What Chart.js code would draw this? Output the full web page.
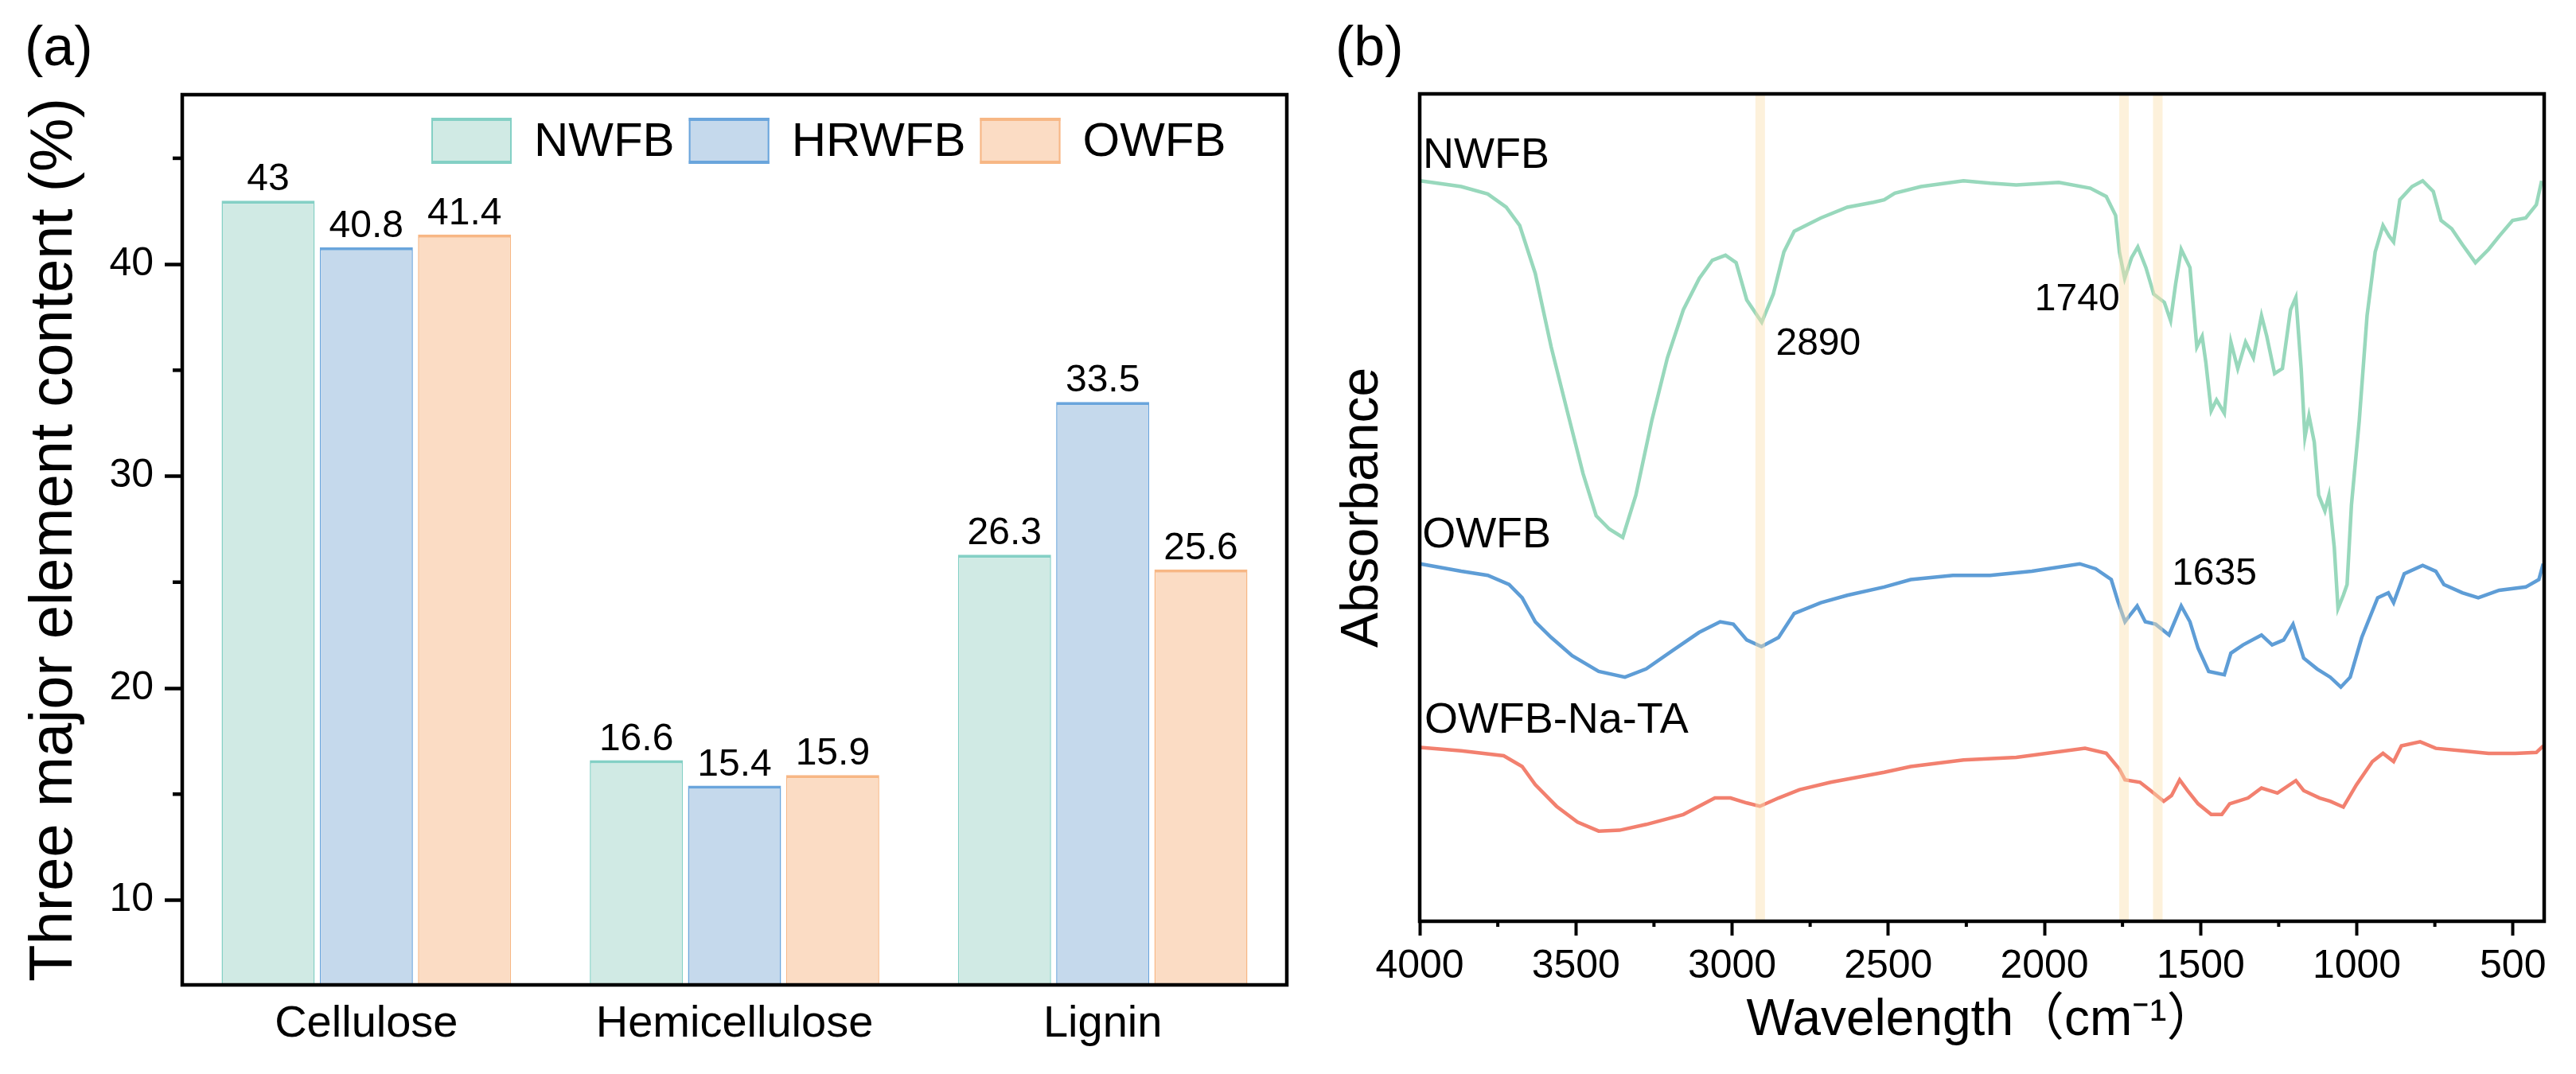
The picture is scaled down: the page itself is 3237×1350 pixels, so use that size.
<!DOCTYPE html>
<html>
<head>
<meta charset="utf-8">
<script src="https://cdn.jsdelivr.net/npm/chart.js@4.4.1/dist/chart.umd.min.js"></script>
<style>
body { margin: 0; background: #fff; }
#wrap { position: relative; width: 3237px; height: 1350px; }
canvas { position: absolute; top: 0; }
#barCanvas { left: 0; }
#ftirCanvas { left: 1650px; }
</style>
</head>
<body>
<div id="wrap">
<canvas id="barCanvas" width="1650" height="1350"></canvas>
<canvas id="ftirCanvas" width="1587" height="1350"></canvas>
</div>
<script>
// (a) three major element content
const categories = ['Cellulose', 'Hemicellulose', 'Lignin'];
const nwfbContent = [43, 16.6, 26.3];
const hrwfbContent = [40.8, 15.4, 33.5];
const owfbContent = [41.4, 15.9, 25.6];
const contentTicks = [10, 20, 30, 40];
const contentMinorTicks = [15, 25, 35, 45];

// (b) FTIR spectra, wavenumber (cm-1) vs relative absorbance (offset, arbitrary units)
const wnTicks = [4000, 3500, 3000, 2500, 2000, 1500, 1000, 500];
const wnMinorTicks = [3750, 3250, 2750, 2250, 1750, 1250, 750];
const bandPositions = [2910, 1745, 1637];

const nwfbWn = [3998,3867,3782,3723,3680,3630,3579,3528,3477,3435,3393,3350,3308,3257,3207,3156,3105,3063,3021,2987,2953,2905,2868,2834,2801,2716,2631,2547,2513,2479,2395,2259,2174,2090,1954,1853,1802,1772,1760,1743,1721,1701,1675,1650,1616,1596,1580,1562,1534,1512,1495,1483,1466,1449,1424,1403,1381,1356,1331,1305,1288,1263,1238,1212,1195,1178,1166,1153,1136,1122,1102,1089,1072,1060,1043,1031,1017,992,967,941,916,896,882,862,823,789,755,730,696,662,620,578,544,501,459,425,408];
const nwfbAbs = [89.5,88.8,87.9,86.3,84.1,78.3,69.4,61.7,54.1,49.0,47.4,46.4,51.5,60.5,68.1,73.9,77.7,79.9,80.5,79.6,75.1,72.4,75.8,80.9,83.4,85.0,86.3,86.9,87.2,88.0,88.8,89.5,89.2,89.0,89.3,88.6,87.6,85.3,80.9,77.7,80.2,81.5,79.0,75.8,74.8,72.6,77.0,81.2,79.0,69.4,70.7,67.5,61.7,63.0,61.4,70.0,66.8,70.0,68.1,73.2,70.7,66.2,66.8,73.9,75.4,66.8,58.5,61.1,57.9,51.5,49.6,51.5,45.2,37.8,39.4,40.7,50.3,60.5,73.2,80.9,84.1,82.8,82.1,87.2,88.8,89.5,88.2,84.7,83.7,81.8,79.6,81.2,82.8,84.7,85.0,86.6,89.5];

const owfbWn = [3998,3867,3782,3714,3672,3630,3579,3512,3427,3343,3275,3191,3106,3038,2996,2953,2906,2851,2801,2716,2631,2513,2428,2293,2174,2040,1887,1836,1786,1765,1742,1728,1703,1677,1644,1601,1562,1534,1508,1474,1424,1403,1364,1305,1271,1234,1204,1170,1127,1085,1051,1021,984,933,899,882,848,789,747,721,662,611,544,459,417,403];
const owfbAbs = [43.2,42.3,41.8,40.7,39.1,36.2,34.3,32.1,30.2,29.5,30.5,32.7,34.9,36.2,35.9,34.0,33.2,34.3,37.2,38.5,39.4,40.4,41.3,41.8,41.8,42.3,43.2,42.6,41.3,38.7,36.2,36.9,38.1,36.2,35.9,34.6,38.1,36.2,33.0,30.2,29.8,32.4,33.4,34.6,33.4,34.0,35.9,31.8,30.5,29.5,28.3,29.5,34.3,39.1,39.7,38.5,42.0,43.0,42.3,40.7,39.7,39.1,40.0,40.4,41.3,43.2];

const naTaWn = [3998,3867,3731,3672,3630,3562,3495,3427,3360,3275,3156,3055,3005,2953,2911,2851,2784,2684,2513,2428,2259,2090,1870,1802,1760,1742,1694,1660,1618,1593,1567,1542,1508,1466,1432,1407,1348,1305,1254,1195,1170,1119,1085,1043,1001,950,916,882,857,797,747,662,578,493,425,403];
const naTaAbs = [21.0,20.6,20.0,18.7,16.5,13.9,12.0,10.9,11.0,11.7,12.9,14.9,14.9,14.3,13.9,14.9,15.9,16.8,18.0,18.7,19.5,19.8,20.9,20.3,18.4,17.1,16.8,15.8,14.5,15.2,17.1,15.8,14.2,12.9,12.9,14.2,14.9,16.1,15.5,17.0,15.8,14.9,14.5,13.8,16.5,19.3,20.3,19.3,21.2,21.7,20.9,20.6,20.3,20.3,20.4,21.2];

const FONT = 'Liberation Sans, Arial, "Noto Sans CJK SC", sans-serif';
const NARROW = 'Liberation Sans Narrow, Arial Narrow, Liberation Sans, sans-serif';
Chart.defaults.font.family = FONT;
Chart.defaults.color = '#000';

function toPoints(xs, ys) {
  return xs.map((x, i) => ({ x: x, y: ys[i] }));
}

function drawFrame(chart) {
  const { ctx, chartArea: a } = chart;
  ctx.save();
  ctx.strokeStyle = '#000';
  ctx.lineWidth = 4.5;
  ctx.strokeRect(a.left, a.top, a.right - a.left, a.bottom - a.top);
  ctx.restore();
}

const barPlugin = {
  id: 'barExtras',
  afterDatasetsDraw(chart) {
    const ctx = chart.ctx;
    ctx.save();
    ctx.fillStyle = '#000';
    ctx.font = '48px ' + FONT;
    ctx.textAlign = 'center';
    ctx.textBaseline = 'alphabetic';
    chart.data.datasets.forEach((ds, i) => {
      chart.getDatasetMeta(i).data.forEach((bar, j) => {
        ctx.fillText(String(ds.data[j]), bar.x, bar.y - 13);
      });
    });
    ctx.restore();
  },
  afterDraw(chart) {
    const { ctx, chartArea: a } = chart;
    drawFrame(chart);
    // minor ticks on y
    const y = chart.scales.y;
    ctx.save();
    ctx.strokeStyle = '#000';
    ctx.lineWidth = 4.5;
    contentMinorTicks.forEach(v => {
      const py = y.getPixelForValue(v);
      ctx.beginPath();
      ctx.moveTo(a.left - 12, py);
      ctx.lineTo(a.left, py);
      ctx.stroke();
    });
    // legend inside plot, top right
    let lx = 542;
    const top = 148, bw = 101, bh = 58;
    ctx.font = '60px ' + NARROW;
    ctx.textBaseline = 'middle';
    ctx.textAlign = 'left';
    chart.data.datasets.forEach(ds => {
      ctx.fillStyle = ds.backgroundColor;
      ctx.fillRect(lx, top, bw, bh);
      ctx.fillStyle = ds.borderColor;
      ctx.fillRect(lx, top, bw, 4);
      ctx.fillRect(lx, top + bh - 4, bw, 4);
      ctx.fillRect(lx, top, 2, bh);
      ctx.fillRect(lx + bw - 2, top, 2, bh);
      ctx.fillStyle = '#000';
      ctx.fillText(ds.label, lx + bw + 28, top + bh / 2 + 2);
      lx += bw + 28 + ctx.measureText(ds.label).width + 18;
    });
    // panel label
    ctx.font = '70px ' + FONT;
    ctx.textBaseline = 'alphabetic';
    ctx.fillText('(a)', 31, 82);
    ctx.restore();
  }
};

new Chart(document.getElementById('barCanvas'), {
  type: 'bar',
  data: {
    labels: categories,
    datasets: [
      { label: 'NWFB', data: nwfbContent, backgroundColor: '#D0EAE4', borderColor: '#84D0C5' },
      { label: 'HRWFB', data: hrwfbContent, backgroundColor: '#C5D9EC', borderColor: '#6AA5DC' },
      { label: 'OWFB', data: owfbContent, backgroundColor: '#FBDCC4', borderColor: '#F7B785' }
    ].map(ds => Object.assign(ds, {
      borderWidth: { top: 4, left: 1.5, right: 1.5, bottom: 0 },
      categoryPercentage: 0.8,
      barPercentage: 0.948
    }))
  },
  options: {
    responsive: false,
    animation: false,
    devicePixelRatio: 1,
    layout: { padding: { top: 119, right: 33, left: 0, bottom: 0 } },
    plugins: { legend: { display: false }, tooltip: { enabled: false } },
    scales: {
      x: {
        grid: { display: false, drawTicks: false },
        border: { display: false },
        ticks: { font: { size: 56 }, color: '#000', padding: 16, maxRotation: 0 },
        afterFit: s => { s.height = 112; }
      },
      y: {
        min: 6, max: 48,
        afterBuildTicks: s => { s.ticks = contentTicks.map(v => ({ value: v })); },
        grid: { drawOnChartArea: false, tickLength: 22, tickWidth: 4.5, tickColor: '#000' },
        border: { display: false },
        ticks: { font: { size: 50 }, color: '#000', padding: 14 },
        title: { display: true, text: 'Three major element content (%)', font: { size: 76 }, color: '#000', padding: { top: 23 } },
        afterFit: s => { s.width = 229; }
      }
    }
  },
  plugins: [barPlugin]
});

// FTIR annotations: text with data-space anchor (left, baseline)
const ftirNotes = [
  { text: 'NWFB', wn: 3990, y: 91.1, size: 54 },
  { text: 'OWFB', wn: 3992, y: 45.2, size: 54 },
  { text: 'OWFB-Na-TA', wn: 3985, y: 22.8, size: 54 },
  { text: '2890', wn: 2860, y: 68.5, size: 48 },
  { text: '1740', wn: 2031, y: 73.8, size: 48 },
  { text: '1635', wn: 1592, y: 40.7, size: 48 }
];

const ftirPlugin = {
  id: 'ftirExtras',
  afterDatasetsDraw(chart) {
    const { ctx, chartArea: a, scales: { x } } = chart;
    ctx.save();
    ctx.fillStyle = 'rgba(250,225,175,0.45)';
    bandPositions.forEach(wn => {
      const px = x.getPixelForValue(wn);
      ctx.fillRect(px - 6, a.top + 2, 12, a.bottom - a.top - 2);
    });
    ctx.restore();
  },
  afterDraw(chart) {
    const { ctx, chartArea: a, scales: { x, y } } = chart;
    drawFrame(chart);
    ctx.save();
    ctx.strokeStyle = '#000';
    ctx.lineWidth = 4;
    wnMinorTicks.forEach(wn => {
      const px = x.getPixelForValue(wn);
      ctx.beginPath();
      ctx.moveTo(px, a.bottom);
      ctx.lineTo(px, a.bottom + 7);
      ctx.stroke();
    });
    ctx.fillStyle = '#000';
    ctx.textAlign = 'left';
    ctx.textBaseline = 'alphabetic';
    ftirNotes.forEach(n => {
      ctx.font = n.size + 'px ' + FONT;
      ctx.fillText(n.text, x.getPixelForValue(n.wn), y.getPixelForValue(n.y));
    });
    ctx.font = '70px ' + FONT;
    ctx.fillText('(b)', 28, 82);
    ctx.restore();
  }
};

new Chart(document.getElementById('ftirCanvas'), {
  type: 'line',
  data: {
    datasets: [
      { label: 'NWFB', data: toPoints(nwfbWn, nwfbAbs), borderColor: '#98D8BC' },
      { label: 'OWFB', data: toPoints(owfbWn, owfbAbs), borderColor: '#5E9DD6' },
      { label: 'OWFB-Na-TA', data: toPoints(naTaWn, naTaAbs), borderColor: '#F2806F' }
    ].map(ds => Object.assign(ds, { borderWidth: 4.5, pointRadius: 0, tension: 0, fill: false }))
  },
  options: {
    responsive: false,
    animation: false,
    devicePixelRatio: 1,
    layout: { padding: { top: 118, right: 40, left: 0, bottom: 0 } },
    plugins: { legend: { display: false }, tooltip: { enabled: false } },
    scales: {
      x: {
        type: 'linear', reverse: true, min: 400, max: 4000,
        afterBuildTicks: s => { s.ticks = wnTicks.map(v => ({ value: v })); },
        grid: { drawOnChartArea: false, tickLength: 18, tickWidth: 4, tickColor: '#000' },
        border: { display: false },
        ticks: { font: { size: 50 }, color: '#000', padding: 9, autoSkip: false, maxRotation: 0, callback: v => String(v) },
        title: { display: true, text: 'Wavelength（cm⁻¹）', font: { size: 64 }, color: '#000', padding: { top: 0, bottom: 28 } },
        afterFit: s => { s.height = 192; }
      },
      y: {
        min: 0, max: 100,
        grid: { display: false },
        border: { display: false },
        ticks: { display: false },
        title: { display: true, text: 'Absorbance', font: { size: 66 }, color: '#000', padding: { top: 23 } },
        afterFit: s => { s.width = 134; }
      }
    }
  },
  plugins: [ftirPlugin]
});
</script>
</body>
</html>
